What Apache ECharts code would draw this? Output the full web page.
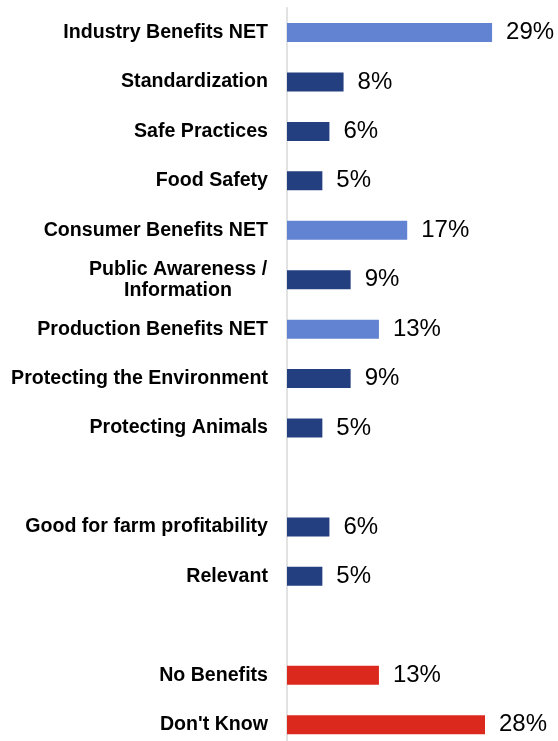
<!DOCTYPE html>
<html>
<head>
<meta charset="utf-8">
<script src="https://cdn.jsdelivr.net/npm/echarts@6/dist/echarts.min.js"></script>
<style>
  html, body { margin: 0; padding: 0; background: #fff; }
  #chart { width: 558px; height: 741px; }
</style>
</head>
<body>
<div id="chart"></div>
<script>
// categories top to bottom, '' = empty gap row
var categories = [
  'Industry Benefits NET', 'Standardization', 'Safe Practices', 'Food Safety',
  'Consumer Benefits NET', 'Public Awareness /\nInformation', 'Production Benefits NET',
  'Protecting the Environment', 'Protecting Animals', '',
  'Good for farm profitability', 'Relevant', '',
  'No Benefits', "Don't Know"
];
var values = [29, 8, 6, 5, 17, 9, 13, 9, 5, null, 6, 5, null, 13, 28];
// group: net / sub / neg
var groups = ['net', 'sub', 'sub', 'sub', 'net', 'sub', 'net', 'sub', 'sub', '',
  'sub', 'sub', '', 'neg', 'neg'];

var groupColors = { net: '#6283D2', sub: '#243F80', neg: '#DC291E' };
var FONT = 'Liberation Sans, Arial, sans-serif';

var barData = [];
for (var i = 0; i < values.length; i++) {
  if (values[i] == null) {
    barData.push('-');
  } else {
    barData.push({ value: values[i], itemStyle: { color: groupColors[groups[i]] } });
  }
}

var chart = echarts.init(document.getElementById('chart'));
var option = {
  animation: false,
  grid: { left: 287, width: 247.5, top: 7.8, height: 741.6, outerBoundsMode: 'none', containLabel: false },
  xAxis: {
    type: 'value', min: 0, max: 35, show: false,
    splitLine: { show: false }
  },
  yAxis: {
    type: 'category',
    inverse: true,
    data: categories,
    axisLine: { lineStyle: { color: '#D9D9D9', width: 1.5 } },
    axisTick: { show: false },
    axisLabel: {
      color: '#000', fontWeight: 'bold', fontSize: 19.6,
      fontFamily: FONT,
      margin: 19, align: 'right', lineHeight: 21,
      formatter: function (v) {
        if (v.indexOf('\n') < 0) return v;
        return v.split('\n').map(function (s) { return '{c|' + s + '}'; }).join('\n');
      },
      rich: {
        c: {
          width: 180, align: 'center', color: '#000', fontWeight: 'bold',
          fontSize: 19.6, fontFamily: FONT, lineHeight: 21
        }
      }
    }
  },
  series: [{
    type: 'bar',
    data: barData,
    barWidth: 19,
    label: {
      show: true, position: 'right', distance: 14,
      formatter: '{c}%', color: '#000', fontSize: 24,
      fontFamily: FONT
    }
  }]
};
chart.setOption(option);
</script>
</body>
</html>
